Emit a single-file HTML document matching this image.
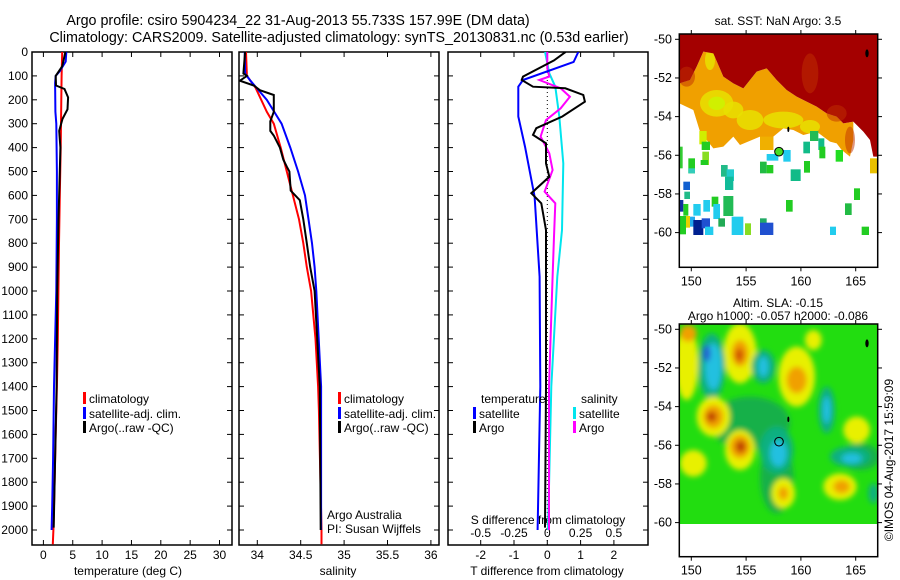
<!DOCTYPE html>
<html><head><meta charset="utf-8"><style>
body{margin:0;background:#fff}
svg{display:block;font-family:"Liberation Sans",sans-serif}
text{fill:#000}
</style></head><body>
<svg id="fig" width="900" height="580" viewBox="0 0 900 580" xmlns="http://www.w3.org/2000/svg">
<text x="298" y="25" font-size="14.3" text-anchor="middle">Argo profile: csiro 5904234_22 31-Aug-2013 55.733S 157.99E (DM data)</text>
<text x="339" y="42" font-size="14.3" text-anchor="middle">Climatology: CARS2009. Satellite-adjusted climatology: synTS_20130831.nc (0.53d earlier)</text>
<g id="profiles"></g>
<g id="maps"></g>
<text transform="translate(893,460) rotate(-90)" font-size="12" text-anchor="middle">©IMOS 04-Aug-2017 15:59:09</text>
</svg>
<script>
// ---- data ----
const depthTicks = [0,100,200,300,400,500,600,700,800,900,1000,1100,1200,1300,1400,1500,1600,1700,1800,1900,2000];
const tempTicks = [0,5,10,15,20,25,30];
const salTicks = [34,34.5,35,35.5,36];
const tdiffTicks = [-2,-1,0,1,2];
const sdiffTicks = [-0.5,-0.25,0,0.25,0.5];
const sdiffLabels = ["-0.5","-0.25","0","0.25","0.5"];

const tClimDepth = [0,100,200,300,400,600,800,1000,1200,1400,1600,1800,2000,2060];
const tClim = [3.2,3.1,3.05,3.0,2.95,2.8,2.65,2.55,2.45,2.3,2.1,1.9,1.7,1.6];
const tSatDepth = [0,40,80,100,130,250,300,500,700,1000,1400,1700,1900,2000];
const tSat = [3.9,3.8,2.8,2.1,2.0,2.05,2.2,2.3,2.3,2.2,1.8,1.65,1.5,1.4];
const tArgoDepth = [0,60,100,140,155,190,240,280,330,400,500,700,1000,1400,1700,1990];
const tArgo = [3.75,3.2,2.1,2.15,3.6,4.2,4.1,3.25,2.7,2.9,2.8,2.57,2.35,2.25,2.0,1.75];

const sClimDepth = [0,100,150,250,300,400,500,600,700,800,900,1000,1200,1400,1500,2000,2060];
const sClim = [33.87,33.88,33.98,34.11,34.19,34.27,34.34,34.41,34.48,34.53,34.57,34.62,34.67,34.70,34.71,34.74,34.74];
const sSatDepth = [0,90,120,200,300,400,500,600,700,800,900,1000,1400,2000];
const sSat = [33.855,33.86,33.92,34.11,34.28,34.38,34.47,34.55,34.59,34.63,34.66,34.68,34.735,34.735];
const sArgoDepth = [0,90,100,120,140,160,180,250,290,330,350,400,450,480,500,580,590,620,700,800,900,1000,1400,2000];
const sArgo = [33.86,33.84,33.88,33.80,33.96,34.03,34.19,34.19,34.15,34.15,34.19,34.26,34.30,34.34,34.37,34.385,34.41,34.49,34.53,34.57,34.61,34.66,34.72,34.73];

const dTSatDepth = [0,42,117,145,270,396,605,940,1400,2000];
const dTSat = [0.93,0.79,-0.73,-0.87,-0.87,-0.67,-0.38,-0.23,-0.21,-0.29];
const dTArgoDepth = [0,5,35,103,117,145,152,180,208,270,319,347,382,466,522,591,633,745,1000,1400,1990];
const dTArgo = [0.55,0.5,0.2,-0.73,-0.77,-0.43,0.54,1.08,1.13,0.45,-0.33,-0.43,-0.04,-0.04,0.06,-0.48,-0.18,-0.04,-0.04,-0.04,-0.07];
const dSSatDepth = [0,5,89,145,270,466,745,940,1400,2000];
const dSSat = [-0.015,-0.015,0.015,0.06,0.09,0.12,0.11,0.075,0.03,0.005];
const dSArgoDepth = [0,68,103,117,152,187,236,285,354,424,494,584,633,773,940,1400,2000];
const dSArgo = [0.0,0.0,0.015,-0.06,0.1,0.17,0.1,-0.01,-0.05,0.015,0.04,-0.02,0.06,0.05,0.04,0.013,0.013];

// ---- geometry ----
const NS = "http://www.w3.org/2000/svg";
const top0 = 52, bot = 545;
const yD = d => top0 + d * 0.239;
const xT = t => 43.4 + t * 5.87;
const xS = s => 257.3 + (s - 34) * 86.8;
const xDT = t => 547.3 + t * 33.3;
const xDS = s => 547.3 + s * 133.2;
const panels = [[32,232],[239,439],[448,648]];

function mk(tag, attrs, parent){ const e=document.createElementNS(NS,tag); for(const k in attrs) e.setAttribute(k,attrs[k]); parent.appendChild(e); return e; }
const P = document.getElementById('profiles');

const defs = mk('defs',{},P);
panels.forEach((p,i)=>{
  const c = mk('clipPath',{id:'clip'+i},defs);
  mk('rect',{x:p[0],y:top0,width:p[1]-p[0],height:bot-top0},c);
  const r = mk('rect',{x:p[0],y:top0,width:p[1]-p[0],height:bot-top0,fill:'none',stroke:'#000','stroke-width':1.5},P);
  
  
  depthTicks.forEach(d=>{
    mk('line',{x1:p[0],x2:p[0]+5,y1:yD(d),y2:yD(d),stroke:'#000'},P);
    mk('line',{x1:p[1]-5,x2:p[1],y1:yD(d),y2:yD(d),stroke:'#000'},P);
  });
});
depthTicks.forEach(d=>{
  const t = mk('text',{x:28,y:yD(d)+4,'font-size':12,'text-anchor':'end'},P);
  t.textContent = d;
  
  
});
function xticks(vals, fx, labels, ly){
  vals.forEach((v,i)=>{
    const x = fx(v);
    mk('line',{x1:x,x2:x,y1:top0,y2:top0+5,stroke:'#000'},P);
    mk('line',{x1:x,x2:x,y1:bot-5,y2:bot,stroke:'#000'},P);
    const t = mk('text',{x:x,y:ly,'font-size':12,'text-anchor':'middle'},P);
    t.textContent = labels[i];
    
    
  });
}
xticks(tempTicks, xT, tempTicks.map(String), 559);
xticks(salTicks, xS, salTicks.map(String), 559);
xticks(tdiffTicks, xDT, tdiffTicks.map(String), 559);
sdiffTicks.forEach((v,i)=>{
  const t = mk('text',{x:xDS(v),y:537,'font-size':12,'text-anchor':'middle'},P);
  t.textContent = sdiffLabels[i];
  
  
});
function label(x,y,txt,name,anchor){
  const t = mk('text',{x:x,y:y,'font-size':12,'text-anchor':anchor||'start'},P);
  t.textContent = txt;
  
  
}
label(128,575,'temperature (deg C)','x-axis-title-temperature','middle');
label(338,575,'salinity','x-axis-title-salinity','middle');
label(547,575,'T difference from climatology','x-axis-title-t-diff','middle');
label(548,524,'S difference from climatology','s-diff-axis-title','middle');

const z = mk('line',{x1:xDT(0),x2:xDT(0),y1:top0,y2:bot,stroke:'#000','stroke-dasharray':'1,3'},P);



function series(depths, vals, fx, color, clip, name){
  const pts = depths.map((d,i)=>fx(vals[i]).toFixed(1)+','+yD(d).toFixed(1)).join(' ');
  const l = mk('polyline',{points:pts,fill:'none',stroke:color,'stroke-width':2,'clip-path':'url(#clip'+clip+')'},P);
  
  
}
series(tClimDepth,tClim,xT,'#f00',0,'temp-climatology-line');
series(tSatDepth,tSat,xT,'#00f',0,'temp-satellite-line');
series(tArgoDepth,tArgo,xT,'#000',0,'temp-argo-line');
series(sClimDepth,sClim,xS,'#f00',1,'sal-climatology-line');
series(sSatDepth,sSat,xS,'#00f',1,'sal-satellite-line');
series(sArgoDepth,sArgo,xS,'#000',1,'sal-argo-line');
series(dSSatDepth,dSSat,xDS,'#00e5ee',2,'sdiff-satellite-line');
series(dSArgoDepth,dSArgo,xDS,'#f0f',2,'sdiff-argo-line');
series(dTSatDepth,dTSat,xDT,'#00f',2,'tdiff-satellite-line');
series(dTArgoDepth,dTArgo,xDT,'#000',2,'tdiff-argo-line');

function legend(x,y,color,txt,name){
  const r = mk('rect',{x:x,y:y-6,width:3,height:12,fill:color},P);
  
  
  label(x+6,y+5,txt,name);
}
legend(83,398,'#f00','climatology','legend-climatology');
legend(83,413,'#00f','satellite-adj. clim.','legend-satellite');
legend(83,427,'#000','Argo(..raw -QC)','legend-argo');
legend(338,398,'#f00','climatology','legend2-climatology');
legend(338,413,'#00f','satellite-adj. clim.','legend2-satellite');
legend(338,427,'#000','Argo(..raw -QC)','legend2-argo');
label(481,403,'temperature','legend-temperature-heading');
label(581,403,'salinity','legend-salinity-heading');
legend(473,413,'#00f','satellite','legend-t-satellite');
legend(473,427,'#000','Argo','legend-t-argo');
legend(573,413,'#00e5ee','satellite','legend-s-satellite');
legend(573,427,'#f0f','Argo','legend-s-argo');
label(327,519,'Argo Australia','credit-argo-australia');
label(327,533,'PI: Susan Wijffels','credit-pi');

// ---- maps ----
const M = document.getElementById('maps');
const lonTicks=[150,155,160,165], latTicks=[-50,-52,-54,-56,-58,-60];
const xLon = lon => 691.3 + (lon-150)*10.96;
function mapFrame(y0, y1, latTop, name, title1, title2){
  const g = mk('g',{},M);
  
  
  const yLat = lat => latTop + (-50-lat)*19.33;
  mk('rect',{x:679.3,y:y0,width:198.4,height:y1-y0,fill:'none',stroke:'#000','stroke-width':1.5},g);
  lonTicks.forEach(l=>{
    const x=xLon(l);
    mk('line',{x1:x,x2:x,y1:y0-4,y2:y0,stroke:'#000'},g);
    mk('line',{x1:x,x2:x,y1:y1,y2:y1+4,stroke:'#000'},g);
    const t=mk('text',{x:x,y:y1+18,'font-size':12.5,'text-anchor':'middle'},g); t.textContent=l;
  });
  latTicks.forEach(l=>{
    const y=yLat(l);
    mk('line',{x1:675,x2:679.3,y1:y,y2:y,stroke:'#000'},g);
    mk('line',{x1:877.7,x2:882,y1:y,y2:y,stroke:'#000'},g);
    const t=mk('text',{x:672,y:y+4,'font-size':12.5,'text-anchor':'end'},g); t.textContent=l;
  });
  const t1=mk('text',{x:778,y:title2? y0-17:y0-9,'font-size':12,'text-anchor':'middle'},g); t1.textContent=title1;
  if(title2){const t2=mk('text',{x:778,y:y0-4,'font-size':12,'text-anchor':'middle'},g); t2.textContent=title2;}
}

// SST map drawn in zoom coordinates
const sstOuter = mk('g',{transform:'translate(650,0) scale(0.33333)'},M);
const sdefs = mk('defs',{},sstOuter);
const scp = mk('clipPath',{id:'sstclip'},sdefs);
mk('rect',{x:88,y:102,width:595,height:700},scp);
const sst = mk('g',{'clip-path':'url(#sstclip)'},sstOuter);


mk('polygon',{fill:'#f0a000',points:'88,250 120,240 140,200 160,155 190,160 220,230 250,250 280,265 300,240 320,215 350,205 380,240 410,270 440,290 470,305 500,320 530,340 560,350 580,370 610,365 610,420 600,470 575,450 560,430 540,425 500,395 460,405 430,390 400,385 370,410 370,450 330,450 330,410 270,435 250,410 220,440 190,445 170,420 150,420 150,395 130,330 88,310'},sst);
[[200,310,50,40],[180,180,15,30],[400,360,60,25],[300,360,40,30],[480,380,30,20],[250,330,30,25]].forEach(e=>mk('ellipse',{cx:e[0],cy:e[1],rx:e[2],ry:e[3],fill:'#e8e000',opacity:0.85},sst));
[[200,310,25,20]].forEach(e=>mk('ellipse',{cx:e[0],cy:e[1],rx:e[2],ry:e[3],fill:'#d0f000'},sst));
mk('polygon',{fill:'#a40000',points:'88,102 683,102 683,470 670,470 660,420 640,395 625,380 610,365 580,370 560,350 530,340 500,320 470,305 440,290 410,270 380,240 350,205 320,215 300,240 280,265 250,250 220,230 190,160 160,155 140,200 120,240 88,250'},sst);
[[110,230,25,30],[480,220,25,60],[560,340,30,25],[600,420,15,40]].forEach(e=>mk('ellipse',{cx:e[0],cy:e[1],rx:e[2],ry:e[3],fill:'#c03000',opacity:0.5},sst));
const sq=[[148,393,22,40,'#d0ee00'],[155,425,25,25,'#22cc22'],[157,455,20,40,'#88dd22'],[152,480,22,15,'#22cc22'],[90,440,8,65,'#33cc33'],[115,475,20,45,'#22cc22'],[115,505,20,15,'#33ccbb'],[213,495,20,35,'#22bb88'],[230,508,22,35,'#22cccc'],[225,530,25,40,'#11bb99'],[100,545,20,25,'#1060d0'],[103,575,17,22,'#22bb88'],[88,600,12,35,'#1030a0'],[100,612,15,35,'#22cc22'],[130,612,22,35,'#22ccee'],[160,600,20,35,'#22ccee'],[185,590,20,30,'#22cc22'],[190,612,20,45,'#22ccee'],[220,588,30,60,'#22bb55'],[88,648,20,55,'#22cc22'],[108,648,12,35,'#e8d000'],[120,650,15,30,'#22aaee'],[130,660,30,45,'#002090'],[155,655,25,30,'#2050d0'],[165,680,25,25,'#22ccee'],[205,655,20,25,'#22aa55'],[245,650,35,55,'#22ccee'],[285,670,18,35,'#88dd22'],[330,655,20,20,'#22aa66'],[330,668,40,37,'#2050d0'],[408,600,20,35,'#22cc22'],[422,508,30,35,'#11bb88'],[462,483,18,35,'#22cc22'],[460,425,20,35,'#11bb88'],[480,393,25,30,'#22bb55'],[505,415,18,35,'#11bb88'],[508,440,18,35,'#22cc22'],[557,450,22,35,'#22dd22'],[585,610,20,35,'#22bb44'],[612,565,18,35,'#22cc22'],[635,680,22,25,'#22cc22'],[540,680,18,25,'#22ccee'],[330,485,20,35,'#22bb44'],[350,495,20,25,'#22cc22'],[350,462,35,20,'#22ccee'],[400,450,22,35,'#22ccee'],[660,475,23,45,'#e8c000'],[330,410,40,40,'#f0b000']];
sq.forEach(s=>mk('rect',{x:s[0],y:s[1],width:s[2],height:s[3],fill:s[4]},sst));
mk('circle',{cx:387,cy:455,r:13,fill:'#44dd22',stroke:'#000','stroke-width':3},sst);
mk('ellipse',{cx:651,cy:160,rx:5,ry:12,fill:'#000'},sst);
mk('ellipse',{cx:415,cy:388,rx:3,ry:8,fill:'#000'},sst);
mapFrame(34,267.3,39.3,'sst-map','sat. SST: NaN Argo: 3.5');

// SLA map
const sla = mk('g',{transform:'translate(650,290) scale(0.33333)'},M);


const fdefs = mk('defs',{},sla);
const f = mk('filter',{id:'blur',x:'-50%',y:'-50%',width:'200%',height:'200%'},fdefs);
mk('feGaussianBlur',{stdDeviation:8},f);
const cp = mk('clipPath',{id:'slaclip'},fdefs);
mk('rect',{x:88,y:102,width:595,height:600},cp);
const sg = mk('g',{'clip-path':'url(#slaclip)'},sla);
mk('rect',{x:88,y:102,width:595,height:600,fill:'#22dd10'},sg);
const bl = mk('g',{filter:'url(#blur)'},sg);
const blobs=[[300,400,120,80,'#18b048'],[380,560,50,110,'#18b048'],[630,500,60,40,'#18b048'],[270,190,50,90,'#e8f000'],[270,190,25,40,'#f0a000'],[268,195,12,20,'#d05000'],[185,230,40,100,'#10b080'],[190,230,25,70,'#20c0e0'],[170,190,12,25,'#2060d0'],[340,230,35,50,'#10b080'],[340,230,15,30,'#20c0e0'],[440,260,55,90,'#e8f000'],[440,270,30,40,'#f0a000'],[110,220,35,110,'#e8f000'],[115,130,25,25,'#f0a000'],[190,380,50,60,'#e8f000'],[190,380,30,35,'#f0a000'],[185,380,15,15,'#c04000'],[270,480,45,60,'#e8f000'],[270,470,30,35,'#f0a000'],[272,470,15,18,'#c04000'],[380,480,50,70,'#10b080'],[385,490,25,40,'#20c0e0'],[530,360,25,70,'#10b080'],[530,360,12,40,'#20c0e0'],[600,500,60,30,'#10b080'],[605,505,30,15,'#20c0e0'],[400,610,35,45,'#e8f000'],[400,610,15,20,'#f0a000'],[570,590,50,40,'#e8f000'],[575,590,25,20,'#f0a000'],[620,420,40,40,'#e8f000'],[130,520,40,40,'#e8f000'],[670,610,15,30,'#10b080'],[490,150,25,30,'#e8f000']];
blobs.forEach(b=>mk('ellipse',{cx:b[0],cy:b[1],rx:b[2],ry:b[3],fill:b[4]},bl));
mk('circle',{cx:387,cy:455,r:13,fill:'none',stroke:'#000','stroke-width':3},sla);
mk('ellipse',{cx:651,cy:160,rx:5,ry:12,fill:'#000'},sla);
mk('ellipse',{cx:415,cy:388,rx:3,ry:8,fill:'#000'},sla);
mapFrame(324,556.7,329.3,'sla-map','Altim. SLA: -0.15','Argo h1000: -0.057 h2000: -0.086');
</script>
</body></html>
